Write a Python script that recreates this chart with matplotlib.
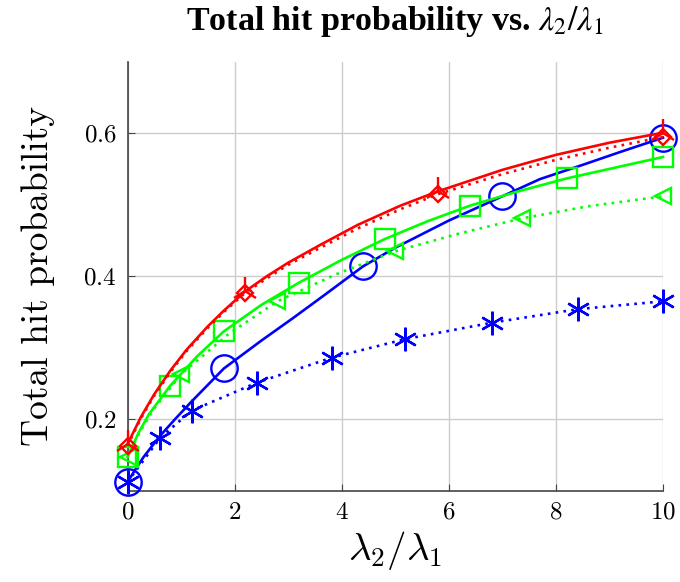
import matplotlib
matplotlib.use('Agg')
import matplotlib.pyplot as plt

# red curves (tri marks on solid, diamonds on dotted)
red_x = [0, 0.25, 0.5, 0.8, 1.1, 1.5, 1.8, 2.2, 2.6, 3.0, 3.6, 4.3, 5.1, 5.8, 7.0, 8.0, 9.0, 10]
red_solid = [0.165, 0.203, 0.235, 0.268, 0.297, 0.330, 0.352, 0.379, 0.400, 0.419, 0.444, 0.472, 0.499, 0.519, 0.549, 0.570, 0.587, 0.601]
red_dot = [0.163, 0.201, 0.233, 0.266, 0.295, 0.328, 0.350, 0.377, 0.397, 0.416, 0.440, 0.467, 0.494, 0.515, 0.543, 0.563, 0.580, 0.595]
red_marks = [0, 7, 13, 17]

# green curves
green_x = [0, 0.2, 0.4, 0.8, 1.3, 1.8, 2.5, 3.2, 4.0, 4.8, 5.6, 6.4, 7.3, 8.2, 9.1, 10]
green_solid = [0.147, 0.180, 0.207, 0.247, 0.288, 0.323, 0.360, 0.391, 0.423, 0.452, 0.477, 0.499, 0.519, 0.537, 0.552, 0.567]
green_marks = [0, 3, 5, 7, 9, 11, 13, 15]
green_dx = [0, 0.25, 0.5, 1.0, 1.9, 2.8, 3.9, 5.0, 6.2, 7.36, 8.6, 10]
green_dot = [0.147, 0.185, 0.215, 0.263, 0.320, 0.365, 0.403, 0.435, 0.460, 0.481, 0.498, 0.512]
green_dmarks = [0, 3, 5, 7, 9, 11]

# blue curves
blue_x = [0, 0.15, 0.3, 0.6, 0.9, 1.2, 1.8, 2.5, 3.1, 3.7, 4.4, 5.0, 6.0, 7.0, 7.7, 8.5, 9.2, 10]
blue_solid = [0.112, 0.130, 0.147, 0.176, 0.201, 0.225, 0.271, 0.310, 0.342, 0.375, 0.414, 0.440, 0.478, 0.512, 0.536, 0.556, 0.574, 0.594]
blue_marks = [0, 6, 10, 13, 17]
blue_dx = [0, 0.61, 1.2, 2.41, 3.81, 5.18, 6.8, 8.41, 10]
blue_dot = [0.112, 0.174, 0.212, 0.251, 0.286, 0.312, 0.335, 0.354, 0.365]

plt.rcParams['mathtext.fontset'] = 'cm'
plt.rcParams['font.family'] = ['cmr10', 'DejaVu Sans']
plt.rcParams['axes.formatter.use_mathtext'] = True

fig = plt.figure(figsize=(6.8, 5.82), dpi=100)
ax = fig.add_axes([0.1875, 0.157, 0.7875, 0.7365])

lw = 1.9
dots = (0, (1, 2.0))
ast = (6, 2, 0)

ax.plot(blue_x, blue_solid, color='blue', lw=lw, marker='o', ms=19, mfc='none', mew=1.7,
        markevery=blue_marks, clip_on=False, zorder=3)
ax.plot(blue_dx, blue_dot, color='blue', lw=lw, ls=dots, marker=ast, ms=17, mew=1.7,
        clip_on=False, zorder=3)
ax.plot(green_x, green_solid, color='#00ff00', lw=lw, marker='s', ms=14, mfc='none', mew=1.7,
        markevery=green_marks, clip_on=False, zorder=4)
ax.plot(green_dx, green_dot, color='#00ff00', lw=lw, ls=dots, marker='<', ms=11, mfc='none', mew=1.7,
        markevery=green_dmarks, clip_on=False, zorder=4)
ax.plot(red_x, red_solid, color='red', lw=lw, marker='2', ms=20, mew=1.7,
        markevery=red_marks, clip_on=False, zorder=5)
ax.plot(red_x, red_dot, color='red', lw=lw, ls=dots, marker='D', ms=8, mfc='none', mew=1.7,
        markevery=red_marks, clip_on=False, zorder=5)

ax.set_xlim(0, 10)
ax.set_ylim(0.1, 0.7)
ax.set_xticks([0, 2, 4, 6, 8, 10])
ax.set_yticks([0.2, 0.4, 0.6])
ax.grid(True, color='#cccccc', lw=1)
ax.set_axisbelow(True)
for s in ['top', 'right']:
    ax.spines[s].set_visible(False)
for s in ['left', 'bottom']:
    ax.spines[s].set_color('#444444')
    ax.spines[s].set_linewidth(1.2)
ax.tick_params(direction='in', length=5, color='#444444', labelsize=18, pad=8)

ax.set_xlabel(r'$\lambda_2/\lambda_1$', fontsize=28, labelpad=4)
ax.set_ylabel('Total hit probability', fontsize=27, labelpad=20)
fig.text(0.581, 0.963, r'Total hit probability vs. $\lambda_2/\lambda_1$', fontsize=24.5,
         fontweight='bold', family='Liberation Serif', math_fontfamily='stix',
         ha='center', va='center')

fig.savefig('out.png', dpi=100)
